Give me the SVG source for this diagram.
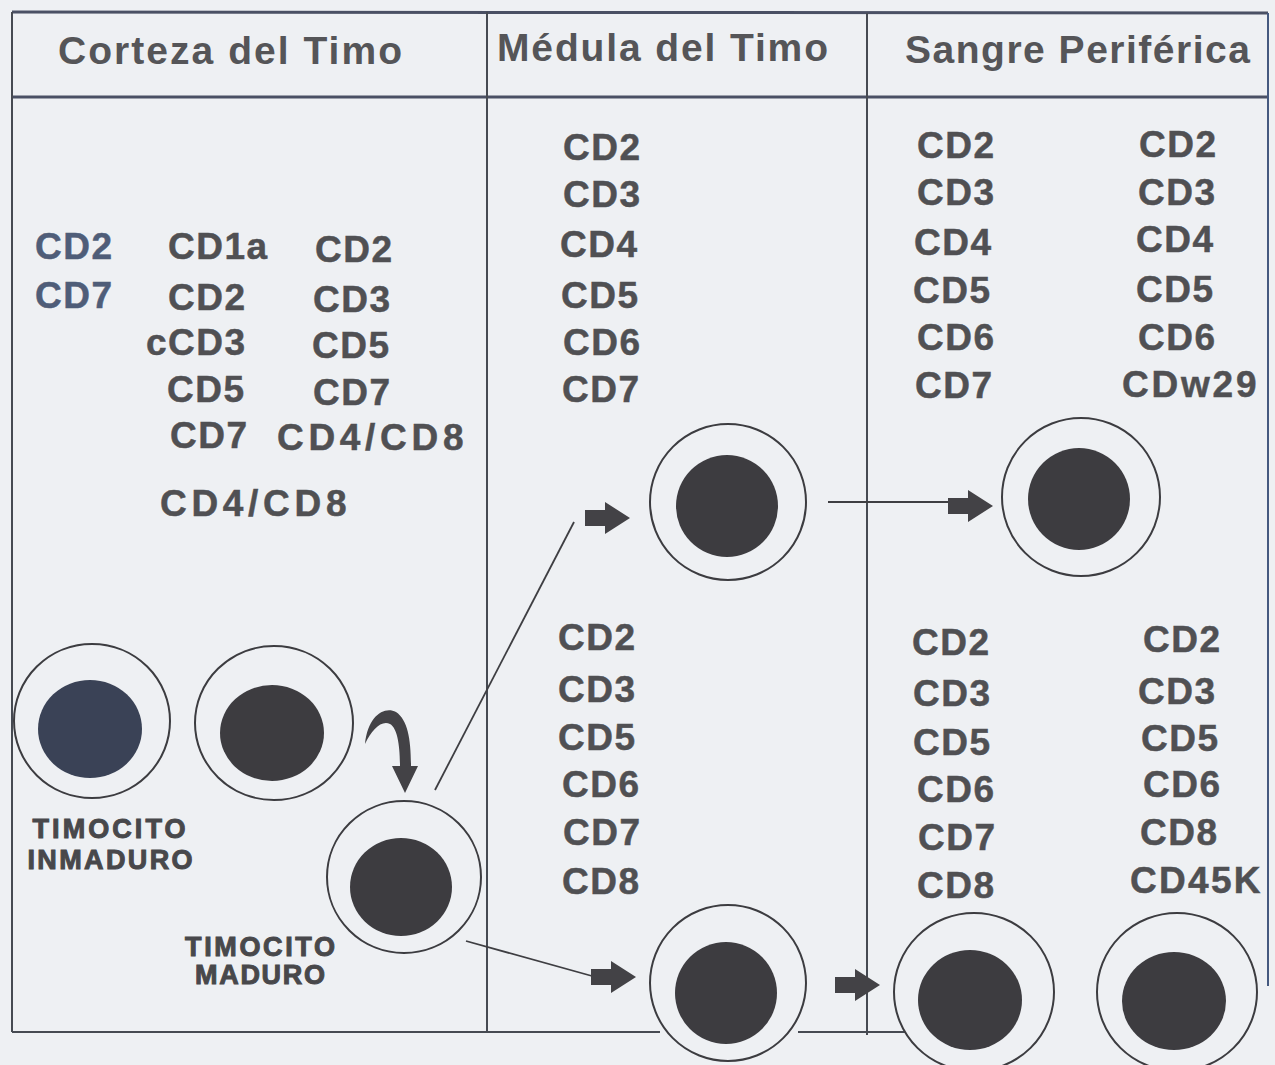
<svg xmlns="http://www.w3.org/2000/svg" width="1275" height="1065" viewBox="0 0 1275 1065">
  <style>
    .frame { stroke: #464a52; stroke-width: 2; fill: none; }
    .rule { stroke: #4a5064; stroke-width: 3; fill: none; }
    .edge { stroke: #45597f; stroke-width: 2; fill: none; }
    .head { font-family: "Liberation Sans", Arial, sans-serif; font-weight: bold; font-size: 39px; fill: #555558; }
    .cd { font-family: "Liberation Sans", Arial, sans-serif; font-weight: bold; font-size: 37px; fill: #505053; stroke: #505053; stroke-width: 0.5; letter-spacing: 1.5px; }
    .cdb { fill: #4f5d78; stroke: #4f5d78; }
    .tag { font-family: "Liberation Sans", Arial, sans-serif; font-weight: bold; font-size: 27px; fill: #48484b; stroke: #48484b; stroke-width: 1; text-anchor: middle; }
    .cell { fill: #eef0f3; stroke: #3c3c40; stroke-width: 2; }
    .nuc { fill: #3d3c40; }
    .link { stroke: #3e3e42; stroke-width: 1.8; fill: none; }
    .fat { fill: #434246; }
  </style>
  <defs>
    <!-- block arrow with its tip at the origin, pointing right -->
    <path id="blockArrow" d="M-45,-8 L-25,-8 L-25,-16 L0,0 L-25,16 L-25,8 L-45,8 Z"/>
  </defs>

  <rect x="0" y="0" width="1275" height="1065" fill="#eef0f3"/>

  <!-- table frame -->
  <g id="frame">
    <line class="rule" x1="12" y1="12" x2="1268" y2="13"/>
    <line class="rule" x1="12" y1="97" x2="1268" y2="97"/>
    <line class="frame" x1="12" y1="12" x2="12" y2="1032"/>
    <line class="frame" x1="487" y1="12" x2="487" y2="1032"/>
    <line class="frame" x1="867" y1="13" x2="867" y2="1035"/>
    <line class="edge" x1="1268" y1="13" x2="1268" y2="986"/>
    <line class="frame" x1="12" y1="1032" x2="660" y2="1032"/>
    <line class="frame" x1="798" y1="1032" x2="905" y2="1032"/>
  </g>

  <!-- column headings -->
  <g id="heading-corteza"><text class="head" x="58" y="64" textLength="344" lengthAdjust="spacing">Corteza del Timo</text></g>
  <g id="heading-medula"><text class="head" x="497" y="61" textLength="331" lengthAdjust="spacing">Médula del Timo</text></g>
  <g id="heading-sangre"><text class="head" x="905" y="63" textLength="345" lengthAdjust="spacing">Sangre Periférica</text></g>

  <!-- cortex markers -->
  <g id="markers-cortex-1">
    <text class="cd cdb" x="35" y="259">CD2</text>
    <text class="cd cdb" x="35" y="308">CD7</text>
  </g>
  <g id="markers-cortex-2">
    <text class="cd" x="168" y="259">CD1a</text>
    <text class="cd" x="168" y="310">CD2</text>
    <text class="cd" x="146" y="355">cCD3</text>
    <text class="cd" x="167" y="402">CD5</text>
    <text class="cd" x="170" y="448">CD7</text>
    <text class="cd" x="160" y="516" textLength="188" lengthAdjust="spacing">CD4/CD8</text>
  </g>
  <g id="markers-cortex-3">
    <text class="cd" x="315" y="262">CD2</text>
    <text class="cd" x="313" y="312">CD3</text>
    <text class="cd" x="312" y="358">CD5</text>
    <text class="cd" x="313" y="405">CD7</text>
    <text class="cd" x="277" y="450" textLength="188" lengthAdjust="spacing">CD4/CD8</text>
  </g>

  <!-- medulla markers -->
  <g id="markers-medula-top">
    <text class="cd" x="563" y="160">CD2</text>
    <text class="cd" x="563" y="207">CD3</text>
    <text class="cd" x="560" y="257">CD4</text>
    <text class="cd" x="561" y="308">CD5</text>
    <text class="cd" x="563" y="355">CD6</text>
    <text class="cd" x="562" y="402">CD7</text>
  </g>
  <g id="markers-medula-bottom">
    <text class="cd" x="558" y="650">CD2</text>
    <text class="cd" x="558" y="702">CD3</text>
    <text class="cd" x="558" y="750">CD5</text>
    <text class="cd" x="562" y="797">CD6</text>
    <text class="cd" x="563" y="845">CD7</text>
    <text class="cd" x="562" y="894">CD8</text>
  </g>

  <!-- peripheral blood markers -->
  <g id="markers-sangre-top-1">
    <text class="cd" x="917" y="158">CD2</text>
    <text class="cd" x="917" y="205">CD3</text>
    <text class="cd" x="914" y="255">CD4</text>
    <text class="cd" x="913" y="303">CD5</text>
    <text class="cd" x="917" y="350">CD6</text>
    <text class="cd" x="915" y="398">CD7</text>
  </g>
  <g id="markers-sangre-top-2">
    <text class="cd" x="1139" y="157">CD2</text>
    <text class="cd" x="1138" y="205">CD3</text>
    <text class="cd" x="1136" y="252">CD4</text>
    <text class="cd" x="1136" y="302">CD5</text>
    <text class="cd" x="1138" y="350">CD6</text>
    <text class="cd" x="1122" y="397" textLength="136" lengthAdjust="spacing">CDw29</text>
  </g>
  <g id="markers-sangre-bottom-1">
    <text class="cd" x="912" y="655">CD2</text>
    <text class="cd" x="913" y="706">CD3</text>
    <text class="cd" x="913" y="755">CD5</text>
    <text class="cd" x="917" y="802">CD6</text>
    <text class="cd" x="918" y="850">CD7</text>
    <text class="cd" x="917" y="898">CD8</text>
  </g>
  <g id="markers-sangre-bottom-2">
    <text class="cd" x="1143" y="652">CD2</text>
    <text class="cd" x="1138" y="704">CD3</text>
    <text class="cd" x="1141" y="751">CD5</text>
    <text class="cd" x="1143" y="797">CD6</text>
    <text class="cd" x="1140" y="845">CD8</text>
    <text class="cd" x="1130" y="893" textLength="132" lengthAdjust="spacing">CD45K</text>
  </g>

  <!-- connectors -->
  <g id="connectors">
    <line class="link" x1="435" y1="790" x2="574" y2="522"/>
    <use href="#blockArrow" class="fat" transform="translate(630,518)"/>
    <line class="link" x1="828" y1="502" x2="950" y2="502"/>
    <use href="#blockArrow" class="fat" transform="translate(993,506)"/>
    <line class="link" x1="466" y1="941" x2="592" y2="976"/>
    <use href="#blockArrow" class="fat" transform="translate(636,977)"/>
    <use href="#blockArrow" class="fat" transform="translate(880,985)"/>
    <path class="fat" d="M365,744 C368,716 384,706 396,712 C408,720 411,740 411,766 L418,766 L405,793 L392,766 L400,766 C400,744 397,728 390,724 C381,720 372,730 365,744 Z"/>
  </g>

  <!-- cells -->
  <g id="cell-inmaduro-1">
    <ellipse class="cell" cx="92" cy="721" rx="78" ry="77"/>
    <ellipse cx="90" cy="729" rx="52" ry="49" fill="#3a4256"/>
  </g>
  <g id="cell-inmaduro-2">
    <ellipse class="cell" cx="274" cy="723" rx="79" ry="77"/>
    <ellipse class="nuc" cx="272" cy="733" rx="52" ry="48"/>
  </g>
  <g id="cell-maduro">
    <ellipse class="cell" cx="404" cy="877" rx="77" ry="76"/>
    <ellipse class="nuc" cx="401" cy="887" rx="51" ry="49"/>
  </g>
  <g id="cell-medula-top">
    <ellipse class="cell" cx="728" cy="502" rx="78" ry="78"/>
    <ellipse class="nuc" cx="727" cy="506" rx="51" ry="51"/>
  </g>
  <g id="cell-sangre-top">
    <ellipse class="cell" cx="1081" cy="497" rx="79" ry="79"/>
    <ellipse class="nuc" cx="1079" cy="499" rx="51" ry="51"/>
  </g>
  <g id="cell-medula-bottom">
    <ellipse class="cell" cx="728" cy="983" rx="78" ry="78"/>
    <ellipse class="nuc" cx="726" cy="993" rx="51" ry="51"/>
  </g>
  <g id="cell-sangre-bottom-1">
    <ellipse class="cell" cx="974" cy="992" rx="80" ry="79"/>
    <ellipse class="nuc" cx="970" cy="1000" rx="52" ry="50"/>
  </g>
  <g id="cell-sangre-bottom-2">
    <ellipse class="cell" cx="1177" cy="992" rx="80" ry="79"/>
    <ellipse class="nuc" cx="1174" cy="1001" rx="52" ry="49"/>
  </g>

  <!-- cell captions -->
  <g id="label-inmaduro">
    <text class="tag" x="109" y="838" textLength="153" lengthAdjust="spacing">TIMOCITO</text>
    <text class="tag" x="110" y="869" textLength="165" lengthAdjust="spacing">INMADURO</text>
  </g>
  <g id="label-maduro">
    <text class="tag" x="260" y="956" textLength="150" lengthAdjust="spacing">TIMOCITO</text>
    <text class="tag" x="260" y="984" textLength="130" lengthAdjust="spacing">MADURO</text>
  </g>
</svg>
